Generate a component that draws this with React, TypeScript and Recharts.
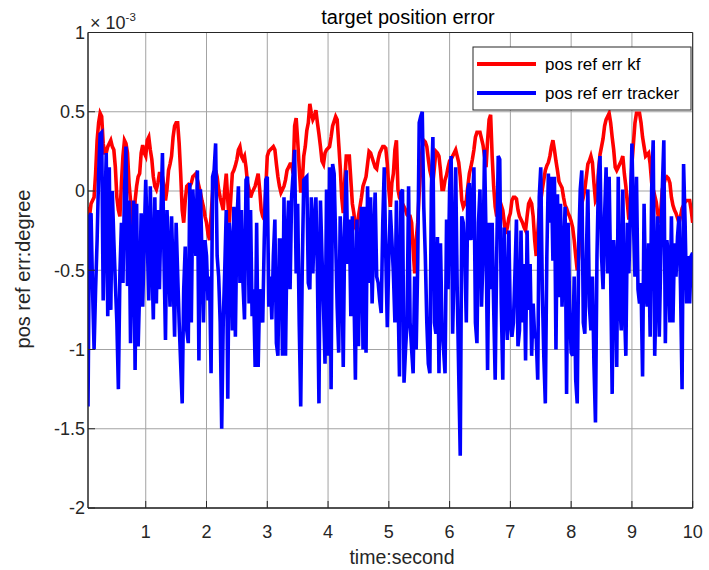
import React from "react";
import {
  LineChart,
  Line,
  XAxis,
  YAxis,
  CartesianGrid,
  ReferenceArea,
} from "recharts";

// pos ref err kf (x 1e-3 degree), sampled every 0.025 s from 0.05 s
const kfErr = [
  -0.1, -0.16, -0.08, -0.06, -0.04, 0.11, 0.32, 0.43, 0.49, 0.47,
  0.3, 0.24, 0.24, 0.28, 0.3, 0.32, 0.28, 0.26, 0.15, -0.04,
  -0.12, -0.16, 0.05, 0.22, 0.32, 0.3, 0.24, 0.05, -0.06, -0.25,
  -0.31, -0.06, 0.03, 0.09, 0.11, 0.24, 0.29, 0.24, 0.22, 0.32,
  0.34, 0.26, 0.2, 0.09, 0.03, 0.01, 0.05, 0.11, 0.11, 0.09,
  0.03, -0.06, 0.01, 0.13, 0.17, 0.22, 0.34, 0.41, 0.43, 0.43,
  0.3, 0.11, -0.12, -0.2, -0.06, 0.03, 0.04, 0.03,
  0.05, 0.09, 0.1, 0.11, 0.07, 0.03, -0.01, -0.06, -0.1, -0.16,
  -0.2, -0.27, -0.31, -0.16, -0.01, 0.07, 0.13, 0.09, 0.01, -0.04,
  -0.08, -0.12, 0.01, 0.11, -0.06, -0.2, -0.04, 0.11, 0.13, 0.16,
  0.2, 0.26, 0.28, 0.22, 0.2, 0.22, 0.15, 0.05, 0.01, -0.04,
  -0.01, 0.01, 0.03, 0.07, 0.11, 0.01, -0.12, -0.16, -0.18, 0.01,
  0.22, 0.25, 0.26, 0.27, 0.28, 0.26, 0.17, 0.09, 0.03, -0.01,
  0.01, 0.03, 0.07, 0.13, 0.15, 0.17,
  0.17, 0.11, 0.41, 0.46, 0.32, 0.15, -0.01, 0.05, 0.22, 0.28,
  0.38, 0.43, 0.55, 0.49, 0.45, 0.47, 0.51, 0.43, 0.36, 0.28,
  0.19, 0.17, 0.24, 0.26, 0.27, 0.28, 0.34, 0.41, 0.44, 0.47,
  0.45, 0.3, 0.15, -0.04, -0.14, 0.07, 0.22, 0.22, 0.22, 0.07,
  -0.08, -0.14, -0.23, -0.25, -0.16, -0.1, -0.04, 0.03, 0.06, 0.09,
  0.17, 0.25, 0.24, 0.21, 0.18, 0.15, 0.14, 0.2, 0.24, 0.26,
  0.28, 0.28, 0.27, 0.17, 0.01, -0.1,
  0.05, 0.11, 0.26, 0.32, 0.01, -0.04, -0.06, -0.08, -0.1, -0.12,
  -0.15, -0.16, -0.16, -0.2, -0.37, -0.52, -0.31, -0.2, -0.01, 0.15,
  0.28, 0.32, 0.31, 0.28, 0.2, 0.13, 0.09, 0.05, 0.15, 0.25,
  0.24, 0.22, 0.13, 0.01, 0.01, 0.07, 0.1, 0.15, 0.19, 0.2,
  0.22, 0.24, 0.26, 0.22, 0.18, 0.09, -0.06, -0.1, -0.08, -0.06,
  0.03, 0.11, 0.15, 0.2, 0.26, 0.34, 0.37, 0.37, 0.37, 0.33,
  0.29, 0.22, 0.15, 0.32, 0.45, 0.48,
  0.22, 0.03, -0.1, -0.16, -0.1, -0.06, -0.09, -0.12, -0.2, -0.27,
  -0.23, -0.17, -0.14, -0.06, -0.04, -0.04, -0.05, -0.12, -0.16, -0.18,
  -0.2, -0.23, -0.25, -0.16, -0.08, -0.06, -0.08, -0.16, -0.31, -0.41,
  -0.27, -0.12, -0.06, 0.01, 0.07, 0.13, 0.16, 0.18, 0.22, 0.28,
  0.32, 0.26, 0.19, 0.13, 0.06, 0.04, 0.02, -0.04, -0.09, -0.11,
  -0.14, -0.16, -0.19, -0.23, -0.31, -0.41, -0.5, -0.41, -0.16, -0.08,
  -0.04, 0.01, 0.09, 0.17, 0.19, 0.22,
  0.18, 0.05, -0.06, -0.04, 0.13, 0.23, 0.28, 0.33, 0.41, 0.45,
  0.47, 0.49, 0.43, 0.34, 0.26, 0.15, 0.13, 0.15, 0.17, 0.19,
  0.22, 0.11, 0.03, -0.08, -0.18, -0.06, 0.17, 0.3, 0.43, 0.49,
  0.49, 0.49, 0.43, 0.34, 0.28, 0.22, 0.23, 0.24, 0.17, 0.05,
  0.01, -0.03, -0.07, -0.14, -0.2, -0.12, 0.01, 0.04, 0.08, 0.09,
  0.08, 0.05, -0.04, -0.09, -0.12, -0.14, -0.17, -0.2, -0.16, -0.11,
  -0.09, -0.07, -0.06, -0.06, -0.06, -0.12, -0.2,
];

// pos ref err tracker (x 1e-3 degree), same sampling
const trackerErr = [
  -1.36, -0.16, -0.14, -0.62, -1.0, -0.62, -0.31, 0.11, 0.36, 0.37,
  -0.69, -0.2, 0.24, -0.79, 0.15, -0.75, 0.0, -0.31, -0.58, -0.83,
  -1.25, -0.52, -0.2, -0.58, 0.0, 0.28, -0.6, -0.06, -0.96, -0.41,
  -0.06, -1.13, -0.08, -0.98, -0.62, -0.14, -0.73, -0.31, 0.07, -0.31,
  -0.69, 0.03, -0.41, -0.81, -0.04, -0.71, -0.12, -0.62, -0.16, 0.24,
  -0.41, -0.94, -0.12, -0.41, -0.73, -0.16, -0.52, -0.92, -0.2, -0.52,
  -0.83, -1.09, -1.34, -0.62, -0.35, -0.88, -0.96, 0.05,
  -0.83, 0.01, -0.2, -0.41, 0.13, -1.07, 0.01, -0.41, -0.83, -0.31,
  -0.41, -0.69, -0.54, -1.15, 0.09, 0.13, 0.3, -0.41, -0.54, -0.83,
  -1.5, -0.83, -0.5, -0.12, -1.31, -0.2, -0.33, -0.88, -0.1, -0.92,
  -0.2, 0.03, -0.58, -0.12, -0.58, -0.81, 0.07, 0.09, -0.71, -0.12,
  -0.79, -0.62, -1.11, -0.2, -1.11, -0.62, -0.73, -0.83, -0.31, 0.07,
  0.09, -0.73, -0.54, -0.81, -0.41, -0.18, -0.96, -1.04, -0.31, -0.31,
  -1.04, -0.04, -1.04, -0.31, -0.06, -0.62,
  -0.04, 0.11, 0.26, -0.52, -0.08, -0.83, -1.36, -0.5, 0.07, 0.08,
  0.09, -0.58, -0.62, -0.04, -0.52, -0.2, -0.04, -0.52, -1.34, -0.06,
  -0.41, -0.73, -1.09, 0.01, -1.04, 0.15, -1.25, 0.17, 0.11, -0.31,
  -0.73, -1.02, -0.16, -0.41, -1.11, -0.2, 0.13, -0.46, -0.18, -0.79,
  -0.16, -0.62, -1.19, -0.18, -0.98, -0.41, -0.1, -1.0, -0.1, -1.02,
  0.03, -0.58, -0.04, -0.71, -0.31, -0.01, -0.54, -0.58, -0.69, -0.77,
  -0.2, 0.15, -0.41, -0.86, -0.41, -0.12,
  -0.31, -0.52, -0.83, -0.06, -0.62, -1.17, -0.01, 0.01, -1.21, -1.0,
  -0.83, 0.03, -0.83, -1.0, -1.15, -0.54, -1.0, -0.46, 0.43, 0.47,
  0.5, -0.1, -0.41, -0.83, -1.09, -1.15, 0.01, 0.34, -0.83, -0.9,
  -0.29, -1.15, -0.33, -0.86, -1.0, -1.15, -0.18, -0.62, 0.01, 0.22,
  -0.9, -0.46, 0.15, -0.62, -1.15, -1.67, -0.16, -0.2, -0.41, -0.83,
  0.01, 0.05, -0.31, -0.1, 0.15, -0.83, -0.96, -0.2, 0.01, -0.73,
  -0.41, 0.26, -0.31, -1.13, -0.2, -0.62,
  -0.2, -0.73, -1.19, -0.41, 0.22, 0.2, -0.71, -1.19, -0.23, -0.73,
  -0.94, -0.25, -0.83, -0.92, -0.83, -0.52, -0.18, -0.98, -0.88, -0.25,
  -0.83, -0.46, -1.07, -0.25, -0.75, -0.46, -1.04, -0.71, -0.92, -0.92,
  -1.19, -0.04, 0.15, -0.62, -1.04, -1.34, -0.41, 0.11, -0.2, 0.09,
  -0.44, 0.09, -1.0, -0.02, -0.67, -0.08, -0.73, -0.41, -0.1, -1.28,
  -0.2, -0.73, -1.02, -1.04, -0.54, -1.19, -1.34, -0.33, 0.01, 0.13,
  -0.83, -0.9, -0.41, 0.01, -0.73, -0.88,
  -0.54, -1.09, -1.46, -0.41, 0.09, 0.22, -0.41, -0.62, -0.16, 0.15,
  -0.52, 0.09, -0.54, -1.28, -0.31, -0.48, -1.11, 0.09, -0.71, -0.88,
  0.01, -0.71, -1.04, -0.2, -0.52, -0.1, 0.3, -0.2, -0.54, 0.09,
  -0.62, -0.71, -0.58, -1.17, -0.08, -0.62, -0.73, -0.33, -0.92, 0.01,
  0.32, -1.04, -0.62, -0.16, -0.92, -0.41, 0.01, 0.32, -0.96, -0.31,
  -0.41, -0.83, -0.16, -0.83, -0.33, -0.54, -0.29, -0.16, -0.62, -1.25,
  0.17, -0.2, -0.71, -0.41, -0.71, -0.41, -0.39,
];

// sample instants (second)
const time = kfErr.map((_, i) => +(0.05 + i * 0.025).toFixed(3));

const xTicks = [1, 2, 3, 4, 5, 6, 7, 8, 9, 10];
const yTicks = [-2, -1.5, -1, -0.5, 0, 0.5, 1];

const FONT = '"Liberation Sans", Arial, Helvetica, sans-serif';
const INK = "#262626";

const rows = time.map((t, i) => ({
  t,
  kf: kfErr[i],
  tracker: trackerErr[i],
}));

export default function App() {
  return (
    <div
      style={{
        position: "absolute",
        left: 0,
        top: 0,
        width: 709,
        height: 570,
        background: "#fff",
        fontFamily: FONT,
      }}
    >
      <LineChart
        width={709}
        height={570}
        data={rows}
        margin={{ top: 32.5, right: 16.3, bottom: 0, left: 0 }}
      >
        <CartesianGrid
          stroke="#a3a3a3"
          strokeWidth={1}
          horizontalValues={yTicks}
          verticalValues={xTicks}
        />
        <XAxis
          dataKey="t"
          type="number"
          domain={[0.05, 10]}
          ticks={xTicks}
          allowDataOverflow
          height={62}
          tickSize={-7}
          tickMargin={24.3}
          stroke={INK}
          tick={{ fontSize: 18, fill: INK, fontFamily: FONT }}
        />
        <YAxis
          type="number"
          domain={[-2, 1]}
          ticks={yTicks}
          allowDataOverflow
          width={88}
          tickSize={-7}
          tickMargin={10}
          stroke={INK}
          tick={{ fontSize: 18, fill: INK, fontFamily: FONT }}
        />
        <Line
          type="linear"
          dataKey="kf"
          stroke="#ff0000"
          strokeWidth={3.6}
          dot={false}
          activeDot={false}
          isAnimationActive={false}
        />
        <Line
          type="linear"
          dataKey="tracker"
          stroke="#0000ff"
          strokeWidth={3.6}
          dot={false}
          activeDot={false}
          isAnimationActive={false}
        />
        <ReferenceArea
          x1={0.05}
          x2={10}
          y1={-2}
          y2={1}
          fill="none"
          stroke={INK}
          strokeWidth={1}
        />
      </LineChart>

      {/* labels and legend drawn over the chart */}
      <svg
        width={709}
        height={570}
        style={{ position: "absolute", left: 0, top: 0, pointerEvents: "none" }}
        fontFamily={FONT}
      >
        <text x={90} y={29.3} fontSize={18} fill={INK}>
          × 10
          <tspan fontSize={11.5} dy={-8.5}>-3</tspan>
        </text>
        <text x={408} y={23.5} fontSize={20} fill="#000" textAnchor="middle">
          target position error
        </text>
        <text x={402} y={564} fontSize={19.5} fill={INK} textAnchor="middle">
          time:second
        </text>
        <text
          x={0}
          y={0}
          fontSize={20}
          fill={INK}
          textAnchor="middle"
          transform="translate(29.5 269) rotate(-90)"
        >
          pos ref err:degree
        </text>

        <rect x={473} y={47} width={218} height={63} fill="#fff" stroke={INK} strokeWidth={1} />
        <line x1={477} x2={536} y1={64} y2={64} stroke="#ff0000" strokeWidth={4} />
        <text x={545} y={64} fontSize={17} fill="#000" dominantBaseline="central">
          pos ref err kf
        </text>
        <line x1={477} x2={536} y1={93} y2={93} stroke="#0000ff" strokeWidth={4} />
        <text x={545} y={93} fontSize={17} fill="#000" dominantBaseline="central">
          pos ref err  tracker
        </text>
      </svg>
    </div>
  );
}
